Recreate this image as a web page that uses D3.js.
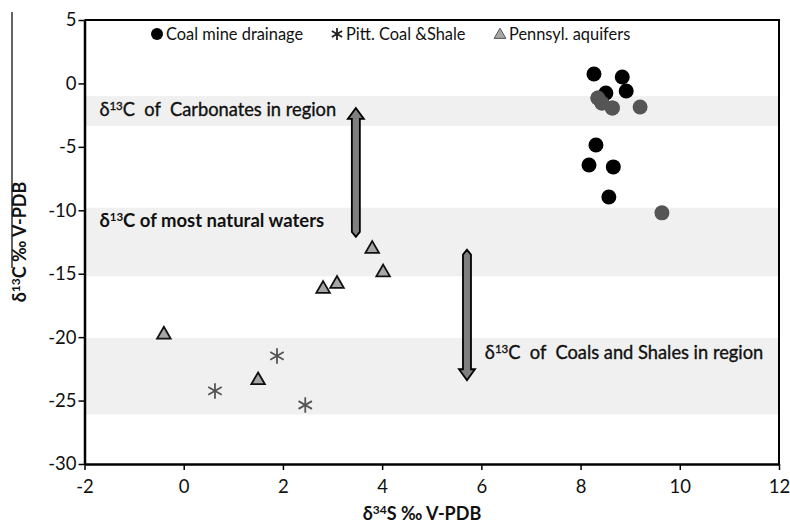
<!DOCTYPE html>
<html>
<head>
<meta charset="utf-8">
<script src="https://cdn.jsdelivr.net/npm/d3@7"></script>
<style>
  html, body { margin: 0; padding: 0; background: #fff; }
  svg { display: block; font-family: Lato, "Noto Sans", sans-serif; }
</style>
</head>
<body>
<svg id="chart" width="790" height="527"></svg>
<script>
// δ34S (x) and δ13C (y), ‰ V-PDB
const drainageX = [8.27, 8.84, 8.92, 8.51, 8.31, 8.17, 8.66, 8.57];
const drainageY = [0.74, 0.51, -0.6, -0.75, -4.85, -6.43, -6.58, -8.95];
const drainageGreyX = [8.35, 8.43, 8.64, 9.2, 9.64];
const drainageGreyY = [-1.15, -1.54, -1.93, -1.86, -10.2];
const coalShaleX = [0.63, 1.88, 2.45];
const coalShaleY = [-24.24, -21.48, -25.35];
const aquiferX = [-0.4, 1.5, 2.81, 3.09, 3.8, 4.02];
const aquiferY = [-19.8, -23.4, -16.2, -15.8, -13.05, -14.9];

// shaded δ13C ranges [top, bottom] and their captions
const bandRanges = [[-1, -3.35], [-9.8, -15.2], [-20.06, -26.1]];
const bandCaptions = ["  of  Carbonates in region", " of most natural waters", "  of  Coals and Shales in region"];
const captionX = [-1.7, -1.7, 6.07];
const captionY = [-2.55, -11.3, -21.7];
const captionBold = [false, true, false];

// block arrows: x, from y, to y
const arrowX = [3.47, 5.71];
const arrowFrom = [-11.7, -13.5];
const arrowTo = [-1.93, -23.4];

const xTicks = [-2, 0, 2, 4, 6, 8, 10, 12];
const yTicks = [-30, -25, -20, -15, -10, -5, 0, 5];
const legendLabels = ["Coal mine drainage", "Pitt. Coal &Shale", "Pennsyl. aquifers"];

const svg = d3.select("#chart");
const x = d3.scaleLinear().domain([-2, 12]).range([84.5, 779]);
const y = d3.scaleLinear().domain([-30, 5]).range([464, 20]);

// bands
svg.append("g").selectAll("rect").data(bandRanges).join("rect")
  .attr("x", x(-2) + 1).attr("width", x(12) - x(-2) - 2)
  .attr("y", d => y(d[0])).attr("height", d => y(d[1]) - y(d[0]))
  .attr("fill", "#f0f0f0");

// captions
const cap = svg.append("g").attr("fill", "#111").attr("stroke", "#111");
bandCaptions.forEach((t, i) => {
  const tx = cap.append("text").attr("x", x(captionX[i])).attr("y", y(captionY[i]))
    .attr("xml:space", "preserve")
    .attr("font-size", captionBold[i] ? 18.5 : 18.3)
    .attr("font-weight", captionBold[i] ? "bold" : "normal")
    .attr("stroke-width", captionBold[i] ? 0 : 0.35);
  tx.append("tspan").text("δ");
  tx.append("tspan").attr("font-size", 11.5).attr("dy", -6).text("13");
  tx.append("tspan").attr("dy", 6).text("C" + t);
});

// block arrows
function blockArrow(px, y0, y1) {
  const dir = y1 < y0 ? -1 : 1;        // -1 pointing up
  const sw = 4, hw = 8, hl = 11, notch = 5;
  const hb = y1 - dir * hl;
  return [
    [px - sw, y0], [px, y0 - dir * notch], [px + sw, y0],
    [px + sw, hb], [px + hw, hb], [px, y1], [px - hw, hb], [px - sw, hb]
  ];
}
svg.append("g").selectAll("path").data(arrowX).join("path")
  .attr("d", (d, i) => d3.line()(blockArrow(x(d), y(arrowFrom[i]), y(arrowTo[i]))) + "Z")
  .attr("fill", "#7f7f7f").attr("stroke", "#000").attr("stroke-width", 1.8)
  .attr("stroke-linejoin", "miter");

// axes
const gx = svg.append("g").attr("transform", `translate(0,${y(-30)})`)
  .call(d3.axisBottom(x).tickValues(xTicks).tickSize(6).tickSizeOuter(0).tickFormat(d => String(d)));
gx.select(".domain").attr("stroke-width", 2.5);
gx.selectAll(".tick line").attr("stroke-width", 1.5);
gx.selectAll("text").attr("font-size", 18.5).attr("fill", "#111").attr("dy", "1.1em")
  .attr("font-family", "Lato, sans-serif");

const gy = svg.append("g").attr("transform", `translate(${x(-2)},0)`)
  .call(d3.axisLeft(y).tickValues(yTicks).tickSize(6).tickSizeOuter(0).tickFormat(d => String(d)));
gy.select(".domain").attr("stroke-width", 2.5);
gy.selectAll(".tick line").attr("stroke-width", 1.5);
gy.selectAll("text").attr("font-size", 18.5).attr("fill", "#111").attr("x", -8)
  .attr("font-family", "Lato, sans-serif");

// frame top/right
svg.append("path")
  .attr("d", `M${x(-2)},${y(5)}H${x(12)}V${y(-30)}`)
  .attr("fill", "none").attr("stroke", "#000").attr("stroke-width", 2);

// points
const tri = d3.symbol().type(d3.symbolTriangle).size(80);
svg.append("g").selectAll("path").data(d3.zip(aquiferX, aquiferY)).join("path")
  .attr("transform", d => `translate(${x(d[0])},${y(d[1])})`)
  .attr("d", tri).attr("fill", "#a6a6a6").attr("stroke", "#111").attr("stroke-width", 1.8);

const star = d3.symbol().type(d3.symbolAsterisk).size(170);
svg.append("g").selectAll("path").data(d3.zip(coalShaleX, coalShaleY)).join("path")
  .attr("transform", d => `translate(${x(d[0])},${y(d[1])})`)
  .attr("d", star).attr("fill", "none").attr("stroke", "#555").attr("stroke-width", 1.8);

svg.append("g").selectAll("circle").data(d3.zip(drainageGreyX, drainageGreyY)).join("circle")
  .attr("cx", d => x(d[0])).attr("cy", d => y(d[1])).attr("r", 7.5).attr("fill", "#555");
svg.append("g").selectAll("circle").data(d3.zip(drainageX, drainageY)).join("circle")
  .attr("cx", d => x(d[0])).attr("cy", d => y(d[1])).attr("r", 7.5).attr("fill", "#000");
// grey points drawn over the black one in the cluster
svg.append("g").selectAll("circle").data(d3.zip(drainageGreyX, drainageGreyY).slice(0, 3)).join("circle")
  .attr("cx", d => x(d[0])).attr("cy", d => y(d[1])).attr("r", 7.5).attr("fill", "#555");

// legend
const lg = svg.append("g").attr("font-size", 16.4).attr("fill", "#111");
const ly = 34;
lg.append("circle").attr("cx", 157).attr("cy", ly).attr("r", 6).attr("fill", "#000");
lg.append("path").attr("transform", `translate(337,${ly})`).attr("d", d3.symbol().type(d3.symbolAsterisk).size(100))
  .attr("stroke", "#222").attr("stroke-width", 1.8);
lg.append("path").attr("transform", `translate(500,${ly + 1})`).attr("d", d3.symbol().type(d3.symbolTriangle).size(60))
  .attr("fill", "#a6a6a6").attr("stroke", "#555").attr("stroke-width", 1);
[166, 346, 509].forEach((lx, i) => {
  lg.append("text").attr("x", lx).attr("y", ly + 5.5).text(legendLabels[i]);
});

// axis titles
const xt = svg.append("text").attr("x", 422).attr("y", 520).attr("text-anchor", "middle")
  .attr("font-size", 18).attr("font-weight", "bold").attr("fill", "#111");
xt.append("tspan").text("δ");
xt.append("tspan").attr("font-size", 12).attr("dy", -6).text("34");
xt.append("tspan").attr("dy", 6).text("S ‰ V-PDB");

const yt = svg.append("text").attr("transform", "translate(26,242) rotate(-90)").attr("text-anchor", "middle")
  .attr("font-size", 18).attr("font-weight", "bold").attr("fill", "#111");
yt.append("tspan").text("δ");
yt.append("tspan").attr("font-size", 12).attr("dy", -6).text("13");
yt.append("tspan").attr("dy", 6).text("C ‰ V-PDB");

svg.append("line").attr("x1", 12).attr("x2", 12).attr("y1", 12).attr("y2", 268)
  .attr("stroke", "#111").attr("stroke-width", 1.3);
</script>
</body>
</html>
